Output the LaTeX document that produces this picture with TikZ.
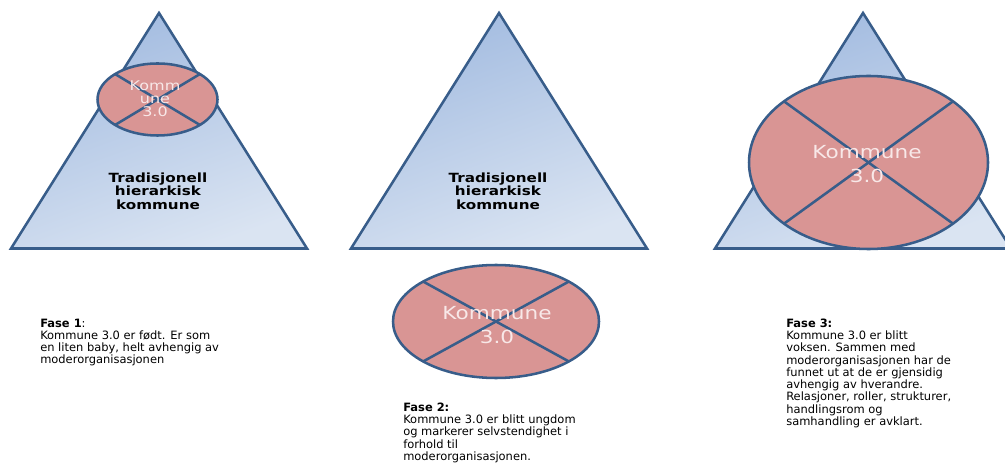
\documentclass[tikz,border=0pt]{standalone}
\usepackage{fontspec}
\setmainfont{DejaVu Sans}
\newfontfamily\widefont{DejaVu Sans}[FakeStretch=1.2]
\usetikzlibrary{shapes.geometric}

\definecolor{edgeblue}{RGB}{56,93,138}
\definecolor{tritop}{RGB}{162,187,224}
\definecolor{tribottom}{RGB}{218,228,242}
\definecolor{rosefill}{RGB}{217,149,148}
\definecolor{labelpink}{RGB}{248,232,232}

\tikzset{
  pyramid/.style={draw=edgeblue, line width=1.9pt, top color=tritop, bottom color=tribottom, shading angle=20},
  unit/.style={ellipse, draw=edgeblue, line width=1.9pt, fill=rosefill, inner sep=0pt, outer sep=0pt},
  cross/.style={draw=edgeblue, line width=1.9pt},
  unitlabel/.style={text=labelpink, align=center, inner sep=0pt, font=\widefont\fontsize{13.5}{18.5}\selectfont},
  basetext/.style={align=center, inner sep=0pt, font=\widefont\bfseries\fontsize{9.5}{10}\selectfont},
  phasetext/.style={anchor=north west, align=left, inner sep=0pt, font=\fontsize{8.6}{9.2}\selectfont}
}

\begin{document}
\begin{tikzpicture}[x=0.75pt, y=-0.75pt]
\useasboundingbox (0,0) rectangle (1005,466);
\clip (0,0) rectangle (1005,466);

% fase 1
\draw[pyramid] (159,13) -- (307,248.5) -- (11,248.5) -- cycle;
\node[basetext] (base1) at (158,191) {Tradisjonell\\hierarkisk\\kommune};
\node[unit, minimum width=90pt, minimum height=54pt] (unit1) at (157.5,99.5) {};
\draw[cross] (unit1.north west) -- (unit1.south east);
\draw[cross] (unit1.north east) -- (unit1.south west);
\node[unitlabel, font=\widefont\fontsize{10}{9.75}\selectfont] (label1) at (155,99) {Komm\\une\\3.0};
\node[phasetext] (fase1) at (40,318.5) {\textbf{Fase 1}:\\Kommune 3.0 er født. Er som\\en liten baby, helt avhengig av\\moderorganisasjonen};

% fase 2
\draw[pyramid] (499,13) -- (647,248.5) -- (351,248.5) -- cycle;
\node[basetext] (base2) at (498,191) {Tradisjonell\\hierarkisk\\kommune};
\node[unit, minimum width=154.5pt, minimum height=84.75pt] (unit2) at (496,321.5) {};
\draw[cross] (unit2.north west) -- (unit2.south east);
\draw[cross] (unit2.north east) -- (unit2.south west);
\node[unitlabel] (label2) at (497,325) {Kommune\\3.0};
\node[phasetext] (fase2) at (403,402.5) {\textbf{Fase 2:}\\Kommune 3.0 er blitt ungdom\\og markerer selvstendighet i\\forhold til\\moderorganisasjonen.};

% fase 3
\draw[pyramid] (863,13) -- (1011,248.5) -- (715,248.5) -- cycle;
\node[unit, minimum width=179.25pt, minimum height=129.75pt] (unit3) at (868.5,162.5) {};
\draw[cross] (unit3.north west) -- (unit3.south east);
\draw[cross] (unit3.north east) -- (unit3.south west);
\node[unitlabel] (label3) at (867,164) {Kommune\\3.0};
\node[phasetext] (fase3) at (786,318.5) {\textbf{Fase 3:}\\Kommune 3.0 er blitt\\voksen. Sammen med\\moderorganisasjonen har de\\funnet ut at de er gjensidig\\avhengig av hverandre.\\Relasjoner, roller, strukturer,\\handlingsrom og\\samhandling er avklart.};
\end{tikzpicture}
\end{document}
